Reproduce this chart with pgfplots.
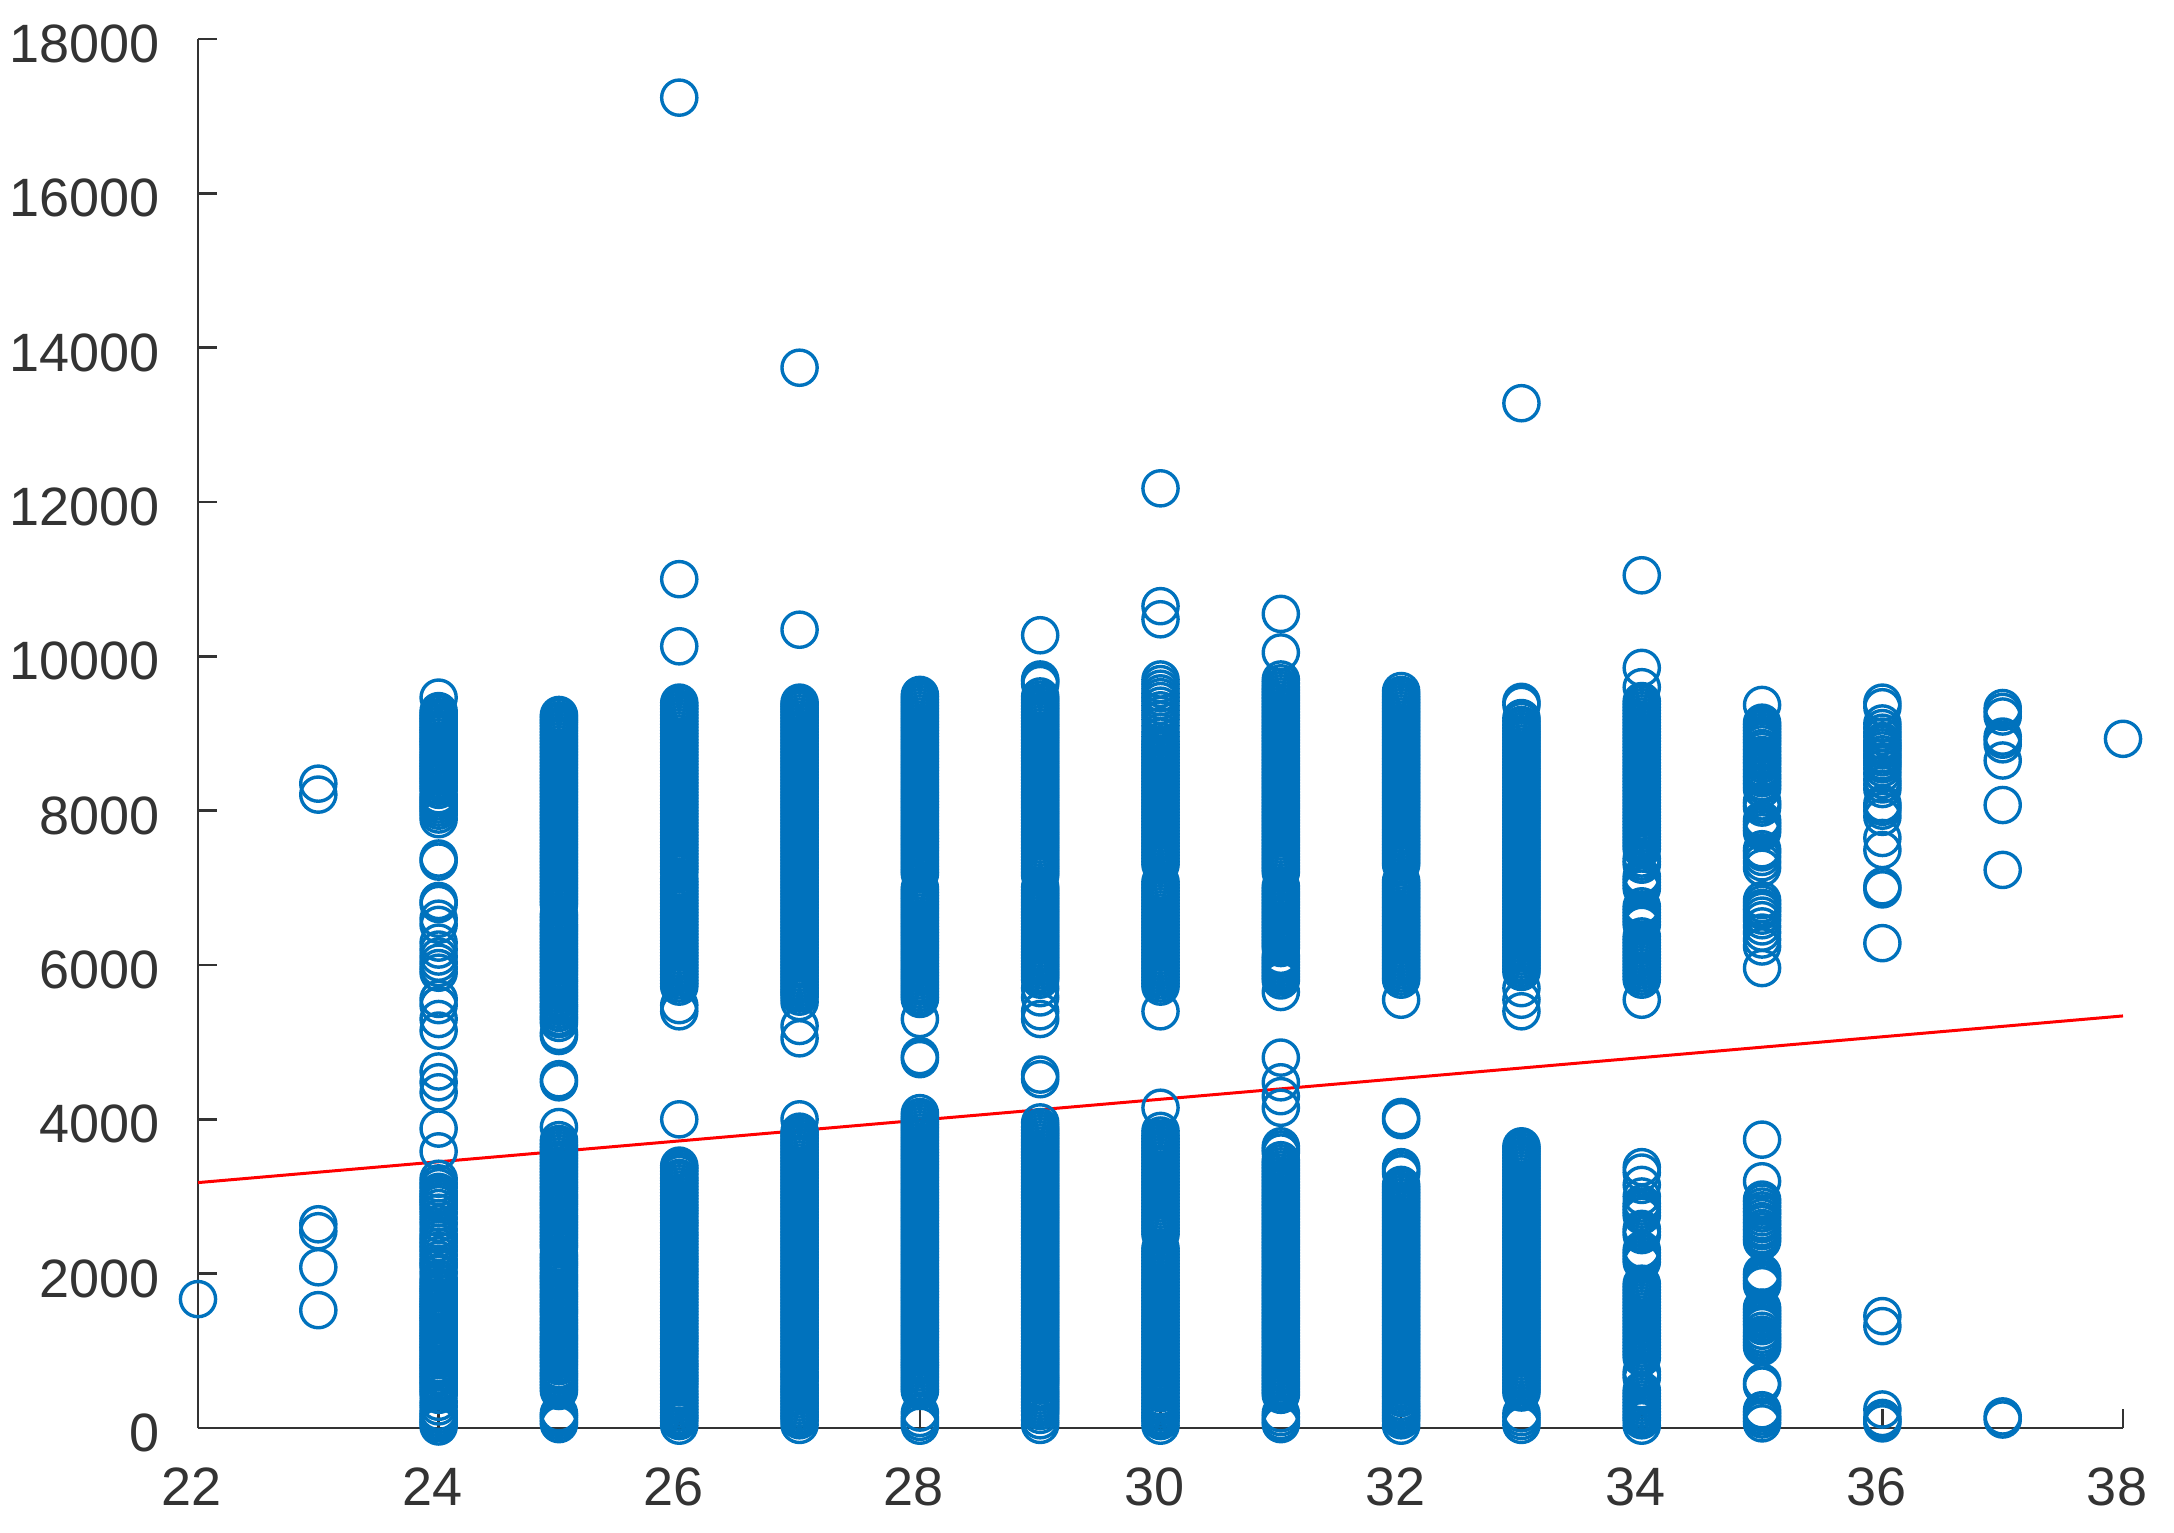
\documentclass[border=0pt]{standalone}
\usepackage{fontspec}
\setmainfont{Liberation Sans}
\usepackage{pgfplots}
\pgfplotsset{compat=1.18}
\definecolor{axisgray}{gray}{0.2}
\definecolor{dotblue}{HTML}{0072BD}
\pgfplotsset{
  dots/.style={only marks,mark=o,mark size=8.8pt,mark options={draw=dotblue,line width=1.7pt}},
  table/col/.style={x expr=#1,y index=0,header=false,row sep=crcr},
}
\begin{document}
\begin{tikzpicture}
\path[use as bounding box] (0,0) rectangle (1087pt,766pt);
\begin{axis}[
    at={(99pt,52pt)},
    anchor=south west,
    scale only axis,
    width=962.5pt,
    height=694.5pt,
    axis x line=bottom,
    axis y line=left,
    axis line style={-,draw=axisgray,line width=1.2pt},
    xmin=22, xmax=38,
    ymin=0, ymax=18000,
    xtick={22,24,...,38},
    ytick={0,2000,...,18000},
    scaled ticks=false,
    tick align=inside,
    major tick length=9.5pt,
    tick style={draw=axisgray,line width=1.2pt},
    clip=false,
    /pgf/number format/assume math mode=true,
    /pgf/number format/1000 sep={},
    tick label style={font=\fontsize{27}{30}\selectfont,text=axisgray,inner sep=0pt},
    xticklabel style={yshift=-19.5pt,xshift=-3pt},
    yticklabel style={xshift=-19pt,yshift=-2.5pt},
]
\addplot[dots] coordinates {(22,1670) (23,1527) (23,2083) (23,2550) (23,2640) (23,8208) (23,8350) (38,8931)};
\addplot[dots] table[col=24] {
20\\60\\90\\130\\170\\210\\280\\340\\430\\480\\520\\570\\600\\650\\680\\720\\760\\800\\830\\880\\
910\\950\\990\\1030\\1060\\1100\\1140\\1180\\1210\\1250\\1290\\1330\\1370\\1410\\1440\\1480\\1520\\1560\\1590\\1620\\
1660\\1700\\1750\\1790\\1830\\1880\\1930\\2010\\2090\\2130\\2180\\2240\\2300\\2350\\2400\\2450\\2500\\2570\\2650\\2720\\
2790\\2850\\2900\\2940\\2980\\3020\\3060\\3120\\3170\\3230\\3585\\3880\\4350\\4480\\4620\\
5150\\5300\\5480\\5560\\5900\\5960\\6030\\6110\\6200\\6290\\6520\\6600\\6790\\6830\\7340\\7380\\
7890\\7950\\8000\\8040\\8080\\8120\\8160\\8200\\8270\\8310\\8360\\8400\\8440\\8480\\8520\\8560\\8590\\8630\\8670\\8710\\
8750\\8800\\8840\\8880\\8910\\8950\\8990\\9030\\9060\\9100\\9140\\9180\\9210\\9250\\9290\\9465\\
};
\addplot[dots] table[col=25] {
50\\90\\130\\160\\190\\480\\520\\560\\600\\640\\680\\710\\750\\800\\840\\880\\920\\950\\990\\1030\\
1070\\1110\\1150\\1180\\1220\\1270\\1300\\1340\\1380\\1420\\1470\\1510\\1540\\1580\\1620\\1660\\1700\\1730\\1770\\1820\\
1860\\1900\\1940\\1970\\2010\\2060\\2100\\2130\\2170\\2210\\2250\\2340\\2370\\2410\\2450\\2490\\2530\\2570\\2610\\2650\\
2690\\2730\\2760\\2810\\2850\\2890\\2920\\2960\\3000\\3040\\3090\\3120\\3160\\3200\\3240\\3280\\3320\\3360\\3400\\3440\\
3480\\3520\\3560\\3600\\3640\\3680\\3730\\3900\\4480\\4520\\5080\\5120\\
5250\\5300\\5330\\5380\\5420\\5460\\5490\\5540\\5580\\5620\\5660\\5700\\5740\\5780\\5810\\5860\\5900\\5940\\5980\\6020\\
6060\\6100\\6140\\6180\\6220\\6260\\6300\\6340\\6380\\6420\\6460\\6500\\6530\\6580\\6620\\6660\\6780\\6820\\6860\\6900\\
6940\\6980\\7020\\7060\\7100\\7140\\7180\\7220\\7260\\7300\\7340\\7380\\7420\\7460\\7500\\7540\\7580\\7620\\7660\\7700\\
7740\\7780\\7820\\7860\\7900\\7940\\7980\\8020\\8060\\8100\\8140\\8180\\8220\\8260\\8300\\8340\\8380\\8420\\8460\\8500\\
8540\\8580\\8620\\8660\\8700\\8740\\8780\\8820\\8860\\8900\\8940\\8980\\9020\\9060\\9100\\9140\\9170\\9210\\9240\\
};
\addplot[dots] table[col=26] {
30\\90\\130\\160\\200\\240\\280\\320\\360\\400\\440\\480\\530\\570\\610\\640\\680\\720\\760\\800\\
830\\870\\920\\960\\1000\\1030\\1080\\1120\\1160\\1190\\1230\\1270\\1310\\1350\\1390\\1430\\1470\\1510\\1550\\1590\\
1630\\1670\\1710\\1750\\1790\\1830\\1870\\1900\\1950\\1990\\2030\\2060\\2110\\2150\\2190\\2220\\2260\\2300\\2340\\2380\\
2420\\2460\\2500\\2530\\2580\\2620\\2660\\2690\\2740\\2780\\2820\\2850\\2890\\2930\\2970\\3010\\3050\\3090\\3130\\3170\\
3210\\3240\\3290\\3330\\3370\\3400\\4000\\
5400\\5480\\5720\\5760\\5800\\5840\\5880\\5920\\5960\\6000\\6040\\6080\\6120\\6160\\6200\\6240\\6280\\6320\\6360\\6400\\
6440\\6480\\6520\\6560\\6600\\6640\\6680\\6720\\6760\\6800\\6840\\6880\\6920\\6960\\7000\\7040\\7080\\7120\\7200\\7240\\
7280\\7320\\7360\\7400\\7440\\7480\\7520\\7560\\7600\\7640\\7680\\7720\\7760\\7800\\7840\\7880\\7920\\7960\\8000\\8040\\
8080\\8120\\8160\\8200\\8240\\8280\\8320\\8360\\8400\\8440\\8480\\8520\\8560\\8600\\8640\\8680\\8720\\8760\\8800\\8840\\
8880\\8920\\8960\\9000\\9040\\9080\\9120\\9160\\9200\\9240\\9280\\9320\\9360\\9400\\10130\\11000\\17240\\
};
\addplot[dots] table[col=27] {
40\\100\\140\\170\\210\\250\\290\\330\\370\\410\\450\\490\\520\\560\\610\\650\\680\\720\\770\\810\\
840\\880\\920\\960\\1000\\1040\\1080\\1120\\1160\\1200\\1240\\1280\\1320\\1360\\1400\\1440\\1480\\1520\\1560\\1600\\
1640\\1680\\1720\\1760\\1800\\1840\\1880\\1920\\1960\\2000\\2040\\2080\\2120\\2160\\2200\\2240\\2280\\2320\\2360\\2400\\
2440\\2480\\2520\\2560\\2600\\2640\\2680\\2720\\2760\\2800\\2840\\2880\\2920\\2960\\3000\\3040\\3080\\3120\\3160\\3200\\
3240\\3280\\3320\\3360\\3400\\3440\\3480\\3520\\3560\\3600\\3640\\3680\\3720\\3760\\3800\\3840\\4000\\
5050\\5210\\5520\\5590\\5630\\5660\\5700\\5740\\5780\\5820\\5860\\5900\\5940\\5980\\6020\\6060\\6100\\6140\\6180\\6220\\
6260\\6300\\6340\\6380\\6420\\6460\\6500\\6540\\6580\\6620\\6660\\6700\\6740\\6780\\6820\\6860\\6900\\6940\\6980\\7020\\
7060\\7100\\7140\\7180\\7220\\7260\\7300\\7340\\7380\\7420\\7460\\7500\\7540\\7580\\7620\\7660\\7700\\7740\\7780\\7820\\
7860\\7900\\7940\\7980\\8020\\8060\\8100\\8140\\8180\\8220\\8260\\8300\\8340\\8380\\8420\\8460\\8500\\8540\\8580\\8620\\
8660\\8700\\8740\\8780\\8820\\8860\\8900\\8940\\8980\\9020\\9060\\9100\\9140\\9180\\9220\\9260\\9300\\9330\\9370\\9400\\10345\\13740\\
};
\addplot[dots] table[col=28] {
30\\80\\130\\200\\480\\520\\560\\600\\640\\680\\720\\760\\800\\830\\870\\910\\950\\990\\1030\\1070\\
1110\\1150\\1190\\1230\\1270\\1310\\1350\\1390\\1430\\1470\\1510\\1550\\1590\\1630\\1670\\1710\\1750\\1790\\1830\\1870\\
1910\\1950\\1990\\2030\\2070\\2110\\2150\\2190\\2230\\2270\\2310\\2350\\2390\\2430\\2470\\2510\\2550\\2590\\2630\\2670\\
2710\\2750\\2790\\2830\\2870\\2910\\2950\\2990\\3030\\3070\\3110\\3150\\3190\\3230\\3270\\3310\\3350\\3390\\3430\\3470\\
3510\\3550\\3590\\3630\\3670\\3710\\3750\\3790\\3830\\3870\\3910\\3950\\3990\\4030\\4080\\4780\\4820\\
5300\\5560\\5600\\5640\\5680\\5720\\5760\\5800\\5840\\5880\\5920\\5960\\6000\\6040\\6080\\6120\\6160\\6200\\6240\\6280\\
6320\\6360\\6400\\6440\\6480\\6520\\6560\\6600\\6640\\6680\\6720\\6760\\6800\\6840\\6880\\6920\\6960\\7000\\7180\\7220\\
7260\\7300\\7340\\7380\\7420\\7460\\7500\\7540\\7580\\7620\\7660\\7700\\7740\\7780\\7820\\7860\\7900\\7940\\7980\\8020\\
8060\\8100\\8140\\8180\\8220\\8260\\8300\\8340\\8380\\8420\\8460\\8500\\8540\\8580\\8620\\8660\\8700\\8740\\8780\\8820\\
8860\\8900\\8940\\8980\\9020\\9060\\9100\\9140\\9180\\9220\\9260\\9300\\9340\\9380\\9420\\9460\\9500\\
};
\addplot[dots] table[col=29] {
40\\100\\170\\220\\260\\300\\340\\380\\420\\460\\500\\550\\590\\630\\660\\700\\740\\780\\820\\860\\
900\\940\\980\\1020\\1060\\1100\\1140\\1180\\1220\\1260\\1300\\1340\\1380\\1420\\1460\\1500\\1540\\1580\\1620\\1660\\
1700\\1740\\1780\\1820\\1860\\1900\\1940\\1980\\2020\\2060\\2100\\2140\\2180\\2220\\2260\\2300\\2340\\2380\\2420\\2460\\
2500\\2540\\2580\\2620\\2660\\2700\\2740\\2780\\2820\\2860\\2900\\2940\\2980\\3020\\3060\\3100\\3140\\3180\\3220\\3260\\
3300\\3340\\3380\\3420\\3460\\3500\\3540\\3580\\3620\\3660\\3700\\3740\\3780\\3820\\3860\\3900\\3960\\4520\\4580\\
5300\\5400\\5580\\5700\\5810\\5850\\5890\\5930\\5970\\6010\\6050\\6090\\6130\\6170\\6210\\6250\\6290\\6330\\6370\\6410\\
6450\\6490\\6530\\6570\\6610\\6650\\6690\\6730\\6770\\6810\\6850\\6890\\6930\\6970\\7010\\7160\\7200\\7240\\7280\\7320\\
7360\\7400\\7440\\7480\\7520\\7560\\7600\\7640\\7680\\7720\\7760\\7800\\7840\\7880\\7920\\7960\\8000\\8040\\8080\\8120\\
8160\\8200\\8240\\8280\\8320\\8360\\8400\\8440\\8480\\8520\\8560\\8600\\8640\\8680\\8720\\8760\\8800\\8840\\8880\\8920\\
8960\\9000\\9040\\9080\\9120\\9160\\9200\\9240\\9280\\9320\\9360\\9400\\9440\\9480\\9640\\9680\\9700\\10273\\
};
\addplot[dots] table[col=30] {
30\\90\\130\\160\\200\\240\\280\\320\\360\\400\\450\\490\\530\\570\\610\\650\\690\\730\\770\\810\\
850\\890\\930\\970\\1010\\1050\\1090\\1130\\1170\\1210\\1250\\1290\\1330\\1370\\1410\\1450\\1490\\1530\\1570\\1610\\
1650\\1690\\1730\\1770\\1810\\1850\\1890\\1930\\1970\\2010\\2050\\2090\\2130\\2170\\2210\\2250\\2290\\2330\\2510\\2550\\
2590\\2630\\2670\\2710\\2750\\2790\\2830\\2870\\2910\\2950\\2990\\3030\\3070\\3110\\3150\\3190\\3230\\3270\\3310\\3350\\
3390\\3430\\3470\\3510\\3550\\3590\\3630\\3670\\3710\\3750\\3790\\3850\\4150\\
5400\\5720\\5760\\5800\\5840\\5880\\5920\\5960\\6000\\6040\\6080\\6120\\6160\\6200\\6240\\6280\\6320\\6360\\6400\\6440\\
6480\\6520\\6560\\6600\\6640\\6680\\6720\\6760\\6800\\6840\\6880\\6920\\6960\\7000\\7040\\7080\\7300\\7340\\7380\\7420\\
7460\\7500\\7540\\7580\\7620\\7660\\7700\\7740\\7780\\7820\\7860\\7900\\7940\\7980\\8020\\8060\\8100\\8140\\8180\\8220\\
8260\\8300\\8340\\8380\\8420\\8460\\8500\\8540\\8580\\8620\\8660\\8700\\8740\\8780\\8820\\8860\\8900\\8960\\9020\\9100\\
9180\\9240\\9300\\9360\\9420\\9470\\9520\\9580\\9640\\9700\\10480\\10650\\12177\\
};
\addplot[dots] table[col=31] {
50\\90\\140\\190\\430\\470\\510\\550\\590\\630\\670\\710\\750\\790\\830\\870\\910\\950\\990\\1030\\
1070\\1110\\1150\\1190\\1230\\1270\\1310\\1350\\1390\\1430\\1470\\1510\\1550\\1590\\1630\\1670\\1710\\1750\\1790\\1830\\
1870\\1910\\1950\\1990\\2030\\2070\\2110\\2150\\2190\\2230\\2270\\2310\\2350\\2390\\2430\\2470\\2510\\2550\\2590\\2630\\
2670\\2710\\2750\\2790\\2830\\2870\\2910\\2950\\2990\\3030\\3070\\3110\\3150\\3190\\3230\\3270\\3310\\3350\\3390\\3430\\
3470\\3570\\3610\\3650\\4150\\4300\\4480\\4800\\
5650\\5800\\5840\\5880\\5920\\5960\\6000\\6040\\6080\\6120\\6220\\6260\\6300\\6340\\6380\\6420\\6460\\6500\\6540\\6580\\
6620\\6660\\6700\\6740\\6780\\6820\\6860\\6900\\6940\\6980\\7020\\7200\\7240\\7280\\7320\\7360\\7400\\7440\\7480\\7520\\
7560\\7600\\7640\\7680\\7720\\7760\\7800\\7840\\7880\\7920\\7960\\8000\\8040\\8080\\8120\\8160\\8200\\8240\\8280\\8320\\
8360\\8400\\8440\\8480\\8520\\8560\\8600\\8640\\8680\\8720\\8760\\8800\\8840\\8880\\8920\\8960\\9000\\9040\\9080\\9120\\
9160\\9200\\9240\\9280\\9320\\9360\\9400\\9440\\9480\\9520\\9560\\9600\\9650\\9700\\10050\\10550\\
};
\addplot[dots] table[col=32] {
30\\100\\140\\180\\220\\260\\300\\340\\390\\430\\470\\510\\550\\590\\630\\670\\710\\750\\790\\830\\
870\\910\\950\\990\\1030\\1070\\1110\\1150\\1190\\1230\\1270\\1310\\1350\\1390\\1430\\1470\\1510\\1550\\1590\\1630\\
1670\\1710\\1750\\1790\\1830\\1870\\1910\\1950\\1990\\2030\\2070\\2110\\2150\\2190\\2230\\2270\\2310\\2350\\2390\\2430\\
2470\\2510\\2550\\2590\\2630\\2670\\2710\\2750\\2790\\2830\\2870\\2910\\2950\\2990\\3030\\3070\\3110\\3150\\3300\\3340\\
3380\\3990\\4030\\
5550\\5810\\5850\\5890\\5930\\5970\\6010\\6050\\6090\\6130\\6170\\6210\\6250\\6290\\6330\\6370\\6410\\6450\\6490\\6530\\
6570\\6610\\6650\\6690\\6730\\6770\\6810\\6850\\6890\\6930\\6970\\7010\\7050\\7090\\7300\\7340\\7380\\7420\\7460\\7500\\
7540\\7580\\7620\\7660\\7700\\7740\\7780\\7820\\7860\\7900\\7940\\7980\\8020\\8060\\8100\\8140\\8180\\8220\\8260\\8300\\
8340\\8380\\8420\\8460\\8500\\8540\\8580\\8620\\8660\\8700\\8740\\8780\\8820\\8860\\8900\\8940\\8980\\9020\\9060\\9100\\
9140\\9180\\9220\\9260\\9300\\9340\\9380\\9420\\9460\\9500\\9550\\
};
\addplot[dots] table[col=33] {
40\\90\\140\\190\\460\\500\\540\\580\\620\\660\\700\\740\\780\\820\\860\\900\\940\\980\\1020\\1060\\
1100\\1140\\1180\\1220\\1260\\1300\\1340\\1380\\1420\\1460\\1500\\1540\\1580\\1620\\1660\\1700\\1740\\1780\\1820\\1860\\
1900\\1940\\1980\\2020\\2060\\2100\\2140\\2180\\2220\\2260\\2300\\2340\\2380\\2420\\2460\\2500\\2540\\2580\\2620\\2660\\
2700\\2740\\2780\\2820\\2860\\2900\\2940\\2980\\3020\\3060\\3100\\3140\\3180\\3220\\3260\\3300\\3340\\3380\\3420\\3460\\
3500\\3540\\3580\\3620\\3650\\
5400\\5550\\5700\\5910\\5950\\5990\\6030\\6070\\6110\\6150\\6190\\6230\\6270\\6310\\6350\\6390\\6430\\6470\\6510\\6550\\
6590\\6630\\6670\\6710\\6750\\6790\\6830\\6870\\6910\\6950\\6990\\7030\\7070\\7110\\7150\\7190\\7230\\7270\\7310\\7350\\
7390\\7430\\7470\\7510\\7550\\7590\\7630\\7670\\7710\\7750\\7790\\7830\\7870\\7910\\7950\\7990\\8030\\8070\\8110\\8150\\
8190\\8230\\8270\\8310\\8350\\8390\\8430\\8470\\8510\\8550\\8590\\8630\\8670\\8710\\8750\\8790\\8830\\8870\\8910\\8950\\
8990\\9030\\9070\\9110\\9160\\9200\\9370\\9410\\13280\\
};
\addplot[dots] table[col=34] {
30\\100\\130\\170\\210\\250\\290\\330\\370\\410\\450\\490\\650\\690\\730\\910\\950\\990\\1030\\1070\\
1110\\1150\\1190\\1230\\1270\\1310\\1350\\1390\\1430\\1470\\1510\\1550\\1590\\1630\\1670\\1710\\1750\\1790\\1830\\1870\\
2150\\2190\\2230\\2270\\2310\\2500\\2540\\2580\\2750\\2790\\2830\\2870\\2910\\3000\\3150\\3310\\3380\\
5550\\5810\\5850\\5890\\5930\\5970\\6010\\6050\\6090\\6130\\6170\\6210\\6250\\6290\\6330\\6370\\6520\\6560\\6600\\6640\\
6680\\6720\\6760\\6990\\7030\\7070\\7110\\7150\\7300\\7340\\7380\\7500\\7540\\7580\\7620\\7660\\7700\\7740\\7780\\7820\\
7860\\7900\\7940\\7980\\8020\\8060\\8100\\8140\\8180\\8220\\8260\\8300\\8340\\8380\\8420\\8460\\8500\\8540\\8580\\8620\\
8660\\8700\\8740\\8780\\8820\\8860\\8900\\8940\\8980\\9020\\9060\\9100\\9140\\9180\\9220\\9260\\9300\\9340\\9380\\9420\\
9600\\9850\\11050\\
};
\addplot[dots] table[col=35] {
60\\110\\150\\190\\230\\550\\590\\1050\\1090\\1130\\1170\\1210\\1260\\1320\\1360\\1400\\1440\\1480\\1520\\1560\\
1850\\1890\\1930\\1970\\2010\\2420\\2460\\2500\\2550\\2590\\2640\\2680\\2730\\2780\\2820\\2870\\2920\\2960\\3197\\3737\\
5960\\6240\\6330\\6420\\6500\\6580\\6640\\6700\\6740\\6790\\6840\\7260\\7330\\7400\\7460\\7500\\7720\\7760\\7800\\7840\\
7880\\8040\\8080\\8120\\8280\\8330\\8370\\8420\\8460\\8510\\8550\\8600\\8640\\8680\\8720\\8770\\8810\\8860\\8900\\8940\\
8980\\9020\\9060\\9100\\9140\\9370\\
};
\addplot[dots] table[col=36] {
60\\100\\130\\240\\1320\\1450\\6283\\6980\\7020\\7490\\7646\\7920\\8000\\8050\\8090\\8280\\8340\\8400\\8480\\8550\\
8600\\8640\\8690\\8730\\8780\\8820\\8860\\8900\\8960\\9010\\9070\\9130\\9340\\9400\\
};
\addplot[dots] table[col=37] {
110\\150\\7232\\8073\\8650\\8860\\8920\\8960\\9220\\9280\\9330\\
};
\addplot[red,line width=1.5pt] coordinates {(22,3180) (38,5340)};
\end{axis}
\end{tikzpicture}
\end{document}
